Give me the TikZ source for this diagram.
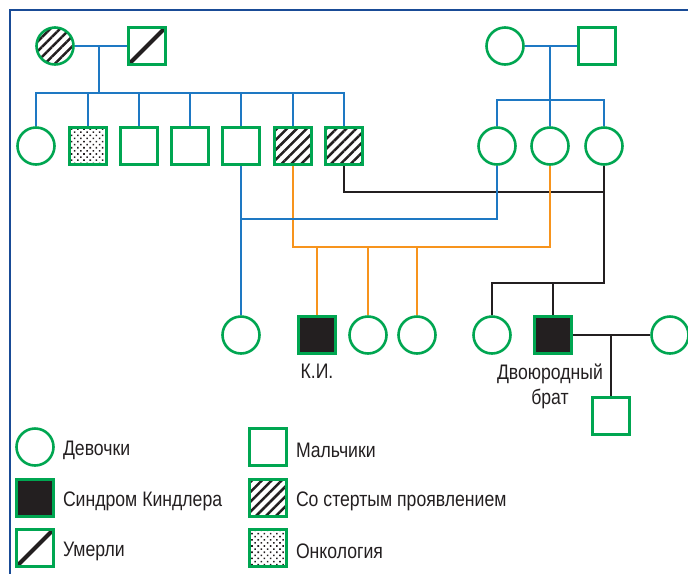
\documentclass[tikz,border=0pt]{standalone}
\usepackage{fontspec}
\setmainfont[FakeStretch=0.84]{Liberation Sans}
\usepackage{xcolor}
\definecolor{PedGreen}{RGB}{0,166,81}
\definecolor{PedBlue}{RGB}{30,120,195}
\definecolor{PedOrange}{RGB}{247,148,29}
\definecolor{PedBlack}{RGB}{35,31,32}
\definecolor{FrameBlue}{RGB}{25,75,150}
\usetikzlibrary{positioning}
\usetikzlibrary{calc}
\usetikzlibrary{patterns.meta}

\begin{document}
\begin{tikzpicture}[
      x=1pt, y=-1pt
      , female/.style={circle, draw=PedGreen, line width=2.6pt, fill=white, inner sep=0pt, minimum size=37pt}
      , male/.style={rectangle, draw=PedGreen, line width=2.6pt, fill=white, inner sep=0pt, minimum size=37pt}
      , sick/.style={fill=PedBlack}
      , mild/.style={pattern={Lines[angle=45, distance=7pt, line width=2.5pt]}, pattern color=PedBlack}
      , onco/.style={pattern={Dots[angle=45, distance=4.4pt, radius=1.1pt]}, pattern color=PedBlack}
      , dead/.style={path picture={\draw[line width=4pt, PedBlack] (path picture bounding box.south west) -- (path picture bounding box.north east);}}
      , b-line/.style={draw=PedBlue, line width=2.6pt}
      , o-line/.style={draw=PedOrange, line width=2.6pt}
      , k-line/.style={draw=PedBlack, line width=2.6pt}
      , pedtext/.style={inner sep=0pt, text=PedBlack, font=\fontsize{21}{25}\selectfont}
      , legtext/.style={pedtext, yshift=-3pt}
      ]

      \useasboundingbox (0,0) rectangle (688,574);
      \draw[FrameBlue, line width=2pt] (688,10) -- (10,10) -- (10,574);

      % first generation
      \node[female, mild] (gm1) at (55,46) {};
      \node[male, dead] (gf1) at (147,46) {};
      \node[female] (gm2) at (505,46) {};
      \node[male] (gf2) at (597,46) {};

      % second generation
      \node[female] (a1) at (36,146) {};
      \node[male, onco] (a2) at (88,146) {};
      \node[male] (a3) at (139,146) {};
      \node[male] (a4) at (190,146) {};
      \node[male] (a5) at (241,146) {};
      \node[male, mild] (a6) at (293,146) {};
      \node[male, mild] (a7) at (344,146) {};

      \node[female] (b1) at (497,146) {};
      \node[female] (b2) at (550,146) {};
      \node[female] (b3) at (604,146) {};

      % third generation
      \node[female] (c1) at (241,335) {};
      \node[male, sick] (c2) at (317,335) {};
      \node[female] (c3) at (368,335) {};
      \node[female] (c4) at (417,335) {};
      \node[female] (c5) at (492,335) {};
      \node[male, sick] (c6) at (553,335) {};
      \node[female] (c7) at (670,335) {};
      \node[male] (d1) at (611,416) {};

      \node[pedtext, below = 9pt of c2] (ki) {К.И.};
      \node[pedtext, below = 9pt of c6, xshift=-3pt, align=center] (cousin) {Двоюродный\\брат};

      % parents and sibships
      \draw[b-line] (gm1) -- (gf1);
      \coordinate (m1) at (99,46);
      \coordinate (sib1) at (99,93);
      \draw[b-line] (m1) -- (sib1);
      \draw[b-line] (a1.north) |- (a7.north |- sib1) -- (a7.north);
      \foreach \i in {2,...,6}
        \draw[b-line] (a\i.north) -- (a\i.north |- sib1);

      \draw[b-line] (gm2) -- (gf2);
      \coordinate (m2) at (550,46);
      \coordinate (sib2) at (550,100);
      \draw[b-line] (m2) -- (sib2);
      \draw[b-line] (b1.north) |- (b3.north |- sib2) -- (b3.north);
      \draw[b-line] (b2.north) -- (b2.north |- sib2);

      \coordinate (mk) at (b3 |- 0,192);
      \coordinate (sibk) at (b3 |- 0,283);
      \draw[k-line] (a7.south) |- (mk) -- (b3.south);
      \draw[k-line] (mk) -- (sibk) -| (c5.north);
      \draw[k-line] (c6.north) -- (c6.north |- sibk);

      \coordinate (mo) at (b2 |- 0,247);
      \draw[o-line] (a6.south) |- (mo) -- (b2.south);
      \foreach \c in {c2,c3,c4}
        \draw[o-line] (\c.north) -- (\c.north |- mo);

      \draw[b-line] (a5.south) -- (c1.north);
      \draw[b-line] (b1.south) |- (a5 |- 0,219);

      \draw[k-line] (c6) -- (c7);
      \coordinate (m3) at (611,335);
      \draw[k-line] (m3) -- (d1.north);

      % legend
      \node[female] (l1) at (35,447) {};
      \node[male] (l2) at (268,447) {};
      \node[male, sick] (l3) at (35,498) {};
      \node[male, mild] (l4) at (268,498) {};
      \node[male, dead] (l5) at (35,548) {};
      \node[male, onco] (l6) at (268,548) {};

      \node[legtext, right = 8pt of l1] (t1) {Девочки};
      \node[legtext, right = 8pt of l2] (t2) {Мальчики};
      \node[legtext, right = 8pt of l3] (t3) {Синдром Киндлера};
      \node[legtext, right = 8pt of l4] (t4) {Со стертым проявлением};
      \node[legtext, right = 8pt of l5] (t5) {Умерли};
      \node[legtext, right = 8pt of l6] (t6) {Онкология};
    \end{tikzpicture}
\end{document}
